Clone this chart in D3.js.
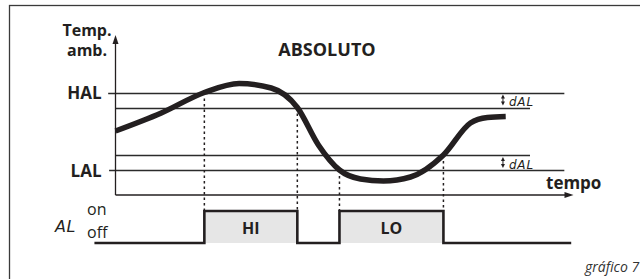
<!DOCTYPE html>
<html>
<head>
<meta charset="UTF-8">
<script src="https://d3js.org/d3.v7.min.js"></script>
<style>
  body { margin: 0; background: #fff; }
  text { font-family: "Open Sans", sans-serif; fill: #231f20; }
</style>
</head>
<body>
<svg id="canvas"></svg>
<script>
// temperature curve (time units, temp units)
time = [0, 10, 19.4, 27, 34, 39.7, 44.3, 48.9, 53.5, 58.5, 64.4, 71.6, 77.5, 81.2, 85.2];
temp = [12.8, 16.4, 20.5, 22.3, 21.4, 17.5, 10, 5, 3.2, 2.8, 3.6, 8, 14.4, 15.5, 15.7];

// alarm thresholds
HAL = 20.5;
LAL = 5;
dAL = 3;

// alarm output periods
alarmLabels = ["HI", "LO"];
alarmStart = [19.4, 48.9];
alarmEnd = [39.7, 71.6];

width = 640;
height = 279;
ink = "#231f20";

svg = d3.select("#canvas").attr("width", width).attr("height", height);

x = d3.scaleLinear().domain([0, 100]).range([115.5, 573.5]);
y = d3.scaleLinear().domain([0, 32]).range([195, 35]);
s = d3.scaleLinear().domain([0, 1]).range([243, 211]);   // off / on

// frame (only top & left are inside the picture)
svg.append("rect")
    .attr("x", 9.5).attr("y", 5.5)
    .attr("width", 700).attr("height", 400)
    .attr("fill", "none").attr("stroke", "#3a3a3a").attr("stroke-width", 1.3);

// threshold lines
thr = [
    [HAL, -1.6, 98],
    [HAL - dAL, 0, 90.5],
    [LAL + dAL, 0, 90.5],
    [LAL, -1.4, 98]
];
svg.append("g").selectAll("line").data(thr).enter().append("line")
    .attr("x1", d => x(d[1])).attr("x2", d => x(d[2]))
    .attr("y1", d => Math.round(y(d[0])) + 0.5).attr("y2", d => Math.round(y(d[0])) + 0.5)
    .attr("stroke", "#2b2b2b").attr("stroke-width", 1.3);

// axes
yAxis = d3.axisLeft(y).tickValues([HAL, LAL])
    .tickFormat(d => d == HAL ? "HAL" : "LAL")
    .tickSize(0).tickPadding(14);
ga = svg.append("g").attr("transform", "translate(" + x(0) + ",0)").call(yAxis);
ga.select(".domain").remove();
ga.selectAll("text")
    .attr("dy", "0.36em")
    .style("font-family", "'Open Sans', sans-serif")
    .style("font-size", "17px").style("font-weight", "bold").style("fill", ink);

svg.append("line")
    .attr("x1", x(0)).attr("x2", x(0)).attr("y1", y(0)).attr("y2", y(31))
    .attr("stroke", ink).attr("stroke-width", 1.3);
svg.append("line")
    .attr("x1", x(0)).attr("x2", x(99)).attr("y1", y(0)).attr("y2", y(0))
    .attr("stroke", ink).attr("stroke-width", 1.3);
// arrow heads
svg.append("path")
    .attr("d", "M" + x(0) + "," + (y(32)) + "l-3,9l6,0z")
    .attr("fill", ink);
svg.append("path")
    .attr("d", "M" + x(100) + "," + y(0) + "l-9,-3l0,6z")
    .attr("fill", ink);

// dotted guides from curve to alarm output
guides = [];
alarmStart.forEach((t, i) => guides.push([t, i == 0 ? HAL : LAL]));
alarmEnd.forEach((t, i) => guides.push([t, i == 0 ? HAL - dAL : LAL + dAL]));
svg.append("g").selectAll("line").data(guides).enter().append("line")
    .attr("x1", d => x(d[0])).attr("x2", d => x(d[0]))
    .attr("y1", d => y(d[1]) + 6).attr("y2", s(1))
    .attr("stroke", ink).attr("stroke-width", 1.5)
    .attr("stroke-dasharray", "2.5,3");

// temperature curve
curve = d3.line()
    .x((d, i) => x(time[i]))
    .y(d => y(d))
    .curve(d3.curveMonotoneX);
svg.append("path")
    .datum(temp)
    .attr("d", curve)
    .attr("fill", "none").attr("stroke", ink).attr("stroke-width", 5.5);

// dAL markers
[HAL, LAL + dAL].forEach(v => {
    var top = y(v) + 2, bot = y(v - dAL) - 2, cx = x(84.6);
    svg.append("line").attr("x1", cx).attr("x2", cx).attr("y1", top + 2).attr("y2", bot - 2)
        .attr("stroke", ink).attr("stroke-width", 1);
    svg.append("path").attr("d", "M" + cx + "," + top + "l-2,4l4,0z").attr("fill", ink);
    svg.append("path").attr("d", "M" + cx + "," + bot + "l-2,-4l4,0z").attr("fill", ink);
    svg.append("text").attr("x", cx + 6).attr("y", bot + 0.5)
        .style("font-family", "'DejaVu Sans', sans-serif")
        .style("font-style", "italic").style("font-size", "12px")
        .style("letter-spacing", "0.8px")
        .text("dAL");
});

// alarm output signal
svg.append("g").selectAll("rect").data(alarmLabels).enter().append("rect")
    .attr("x", (d, i) => x(alarmStart[i])).attr("y", s(1))
    .attr("width", (d, i) => x(alarmEnd[i]) - x(alarmStart[i]))
    .attr("height", s(0) - s(1))
    .attr("fill", "#e6e6e6");

sig = [[-4.6, 0]];
alarmStart.forEach((t, i) => {
    sig.push([t, 0], [t, 1], [alarmEnd[i], 1], [alarmEnd[i], 0]);
});
sig.push([99.5, 0]);
svg.append("path")
    .datum(sig)
    .attr("d", d3.line().x(d => x(d[0])).y(d => s(d[1])))
    .attr("fill", "none").attr("stroke", ink).attr("stroke-width", 2.6);

svg.append("g").selectAll("text").data(alarmLabels).enter().append("text")
    .attr("x", (d, i) => (x(alarmStart[i]) + x(alarmEnd[i])) / 2)
    .attr("y", 234)
    .attr("text-anchor", "middle")
    .style("font-size", "16px").style("font-weight", "bold")
    .text(d => d);

// labels
svg.append("text").attr("x", 87).attr("y", 36).attr("text-anchor", "middle")
    .style("font-size", "16px").style("font-weight", "bold").text("Temp.");
svg.append("text").attr("x", 87).attr("y", 56).attr("text-anchor", "middle")
    .style("font-size", "16px").style("font-weight", "bold").text("amb.");
svg.append("text").attr("x", 327).attr("y", 56).attr("text-anchor", "middle")
    .style("font-size", "18px").style("font-weight", "bold").text("ABSOLUTO");
svg.append("text").attr("x", 546).attr("y", 189)
    .style("font-size", "17px").style("font-weight", "bold").text("tempo");

svg.append("text").attr("x", 87).attr("y", 215)
    .style("font-size", "16px").text("on");
svg.append("text").attr("x", 87).attr("y", 238)
    .style("font-size", "16px").text("off");
svg.append("text").attr("x", 55).attr("y", 232)
    .style("font-family", "'DejaVu Sans', sans-serif")
    .style("font-style", "italic").style("font-size", "16px")
    .style("letter-spacing", "0.5px")
    .text("AL");

svg.append("text").attr("x", 585).attr("y", 272)
    .style("font-style", "italic").style("font-size", "14px").style("fill", "#333")
    .text("gráfico 7");
</script>
</body>
</html>
